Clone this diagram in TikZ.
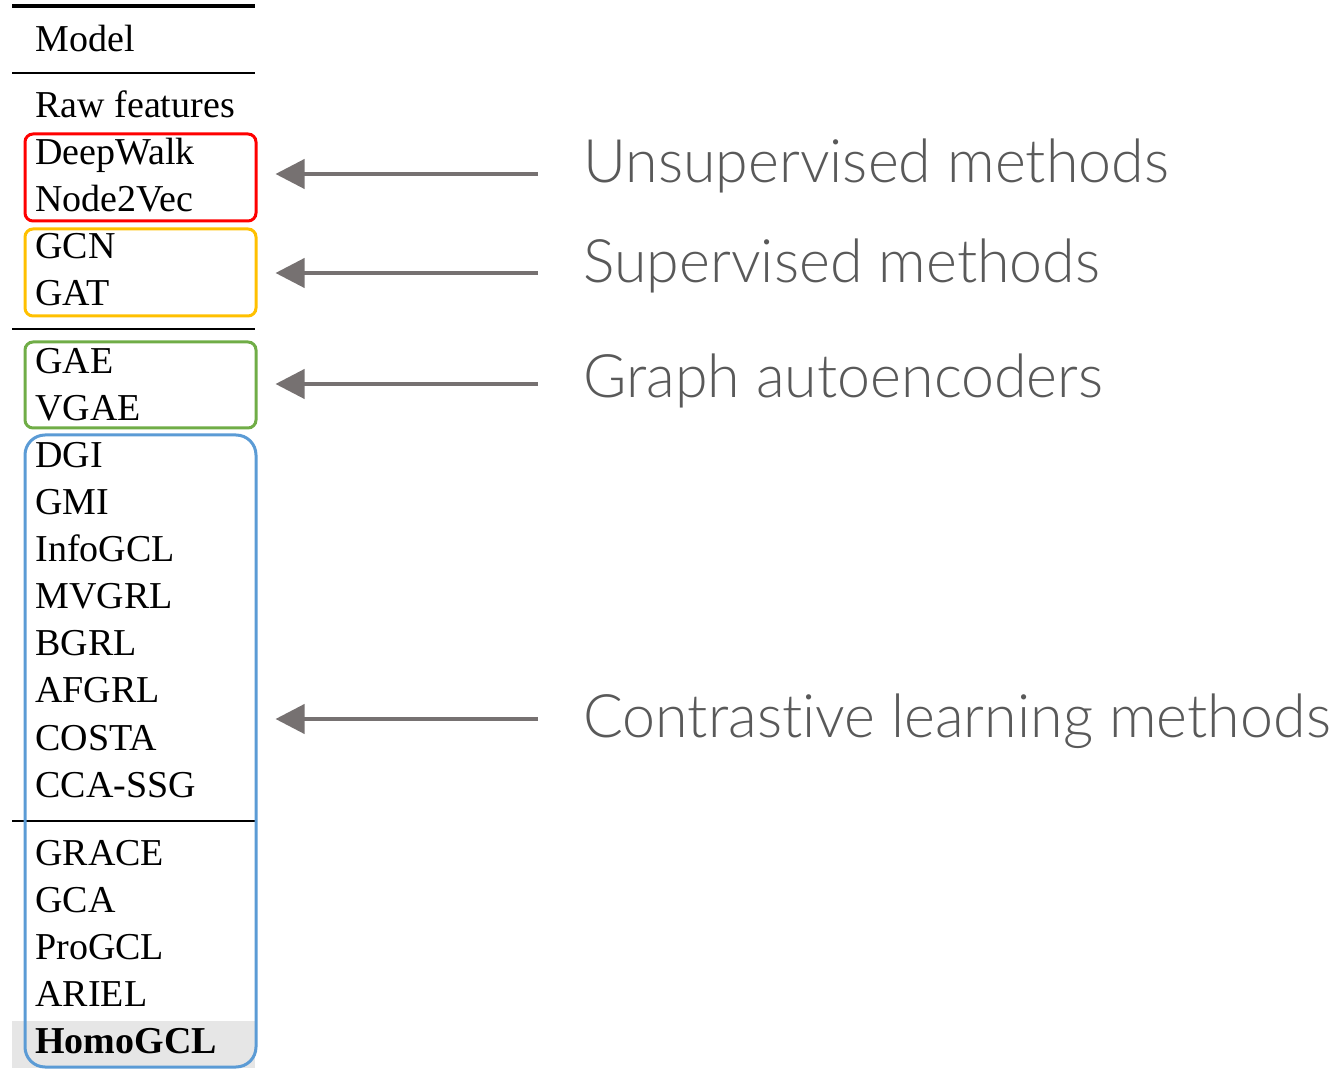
\documentclass[tikz,border=0pt]{standalone}
\usepackage{fontspec}
\setmainfont{Liberation Serif}
\newfontfamily\notefont[FakeStretch=0.985, Ligatures=NoCommon]{Lato Light}
\usetikzlibrary{arrows.meta,fit}
\definecolor{boxred}{HTML}{FF0000}
\definecolor{boxorange}{HTML}{FFC000}
\definecolor{boxgreen}{HTML}{70AD47}
\definecolor{boxblue}{HTML}{5B9BD5}
\definecolor{arrowgray}{HTML}{767171}
\definecolor{notegray}{HTML}{595959}
\definecolor{bandgray}{HTML}{E6E6E6}

\begin{document}
\begin{tikzpicture}[x=0.5pt, y=-0.5pt,
  model/.style={anchor=base west, inner sep=0pt, font=\fontsize{19}{19}\selectfont},
  group/.style={draw=#1, line width=1.5pt, rounded corners=4pt, inner sep=0pt},
  note/.style={anchor=base west, inner sep=0pt, text=notegray,
               font=\notefont\fontsize{30}{30}\selectfont},
  pointer/.style={draw=arrowgray, line width=2pt,
                  -{Triangle[length=14.5pt, width=14.5pt]}}]
  \useasboundingbox (0,0) rectangle (1339,1074);

  % table rules and highlighted row
  \fill[bandgray] (12,1021) rectangle (255,1068);
  \draw[line width=2pt] (12,6) -- (255,6);
  \draw[line width=1pt] (12,73) -- (255,73);
  \draw[line width=1pt] (12,329) -- (255,329);
  \draw[line width=1pt] (12,821) -- (255,821);

  % model column
  \node[model] (head) at (35,52) {Model};
  \foreach \txt/\y [count=\i] in {Raw features/118, DeepWalk/165, Node2Vec/212,
      GCN/259, GAT/306, GAE/374, VGAE/421, DGI/468, GMI/515, InfoGCL/562,
      MVGRL/609, BGRL/656, AFGRL/703, COSTA/750, CCA-SSG/797, GRACE/865,
      GCA/912, ProGCL/959, ARIEL/1006}
    \node[model] (row\i) at (35,\y) {\txt};
  \node[model, font=\fontsize{19}{19}\selectfont\bfseries] (ours) at (35,1053) {HomoGCL};

  % groups
  \node[group=boxred, fit={(25,134) (256,221)}] (unsup) {};
  \node[group=boxorange, fit={(25,229) (256,316)}] (sup) {};
  \node[group=boxgreen, fit={(25,342) (256,428)}] (gae) {};
  \node[group=boxblue, rounded corners=10pt, fit={(25,435) (256,1067)}] (cl) {};

  % notes
  \node[note] (unsup-lbl) at (583,183) {Unsupervised methods};
  \node[note] (sup-lbl) at (583,283) {Supervised methods};
  \node[note] (gae-lbl) at (583,398) {Graph autoencoders};
  \node[note] (cl-lbl) at (583,738) {Contrastive learning methods};

  \coordinate (unsup-from) at (538,174);
  \coordinate (sup-from) at (538,273);
  \coordinate (gae-from) at (538,384);
  \coordinate (cl-from) at (538,719);
  \draw[pointer, shorten >=9pt] (unsup-from) -- (unsup-from -| unsup.east);
  \draw[pointer, shorten >=9pt] (sup-from) -- (sup-from -| sup.east);
  \draw[pointer, shorten >=9pt] (gae-from) -- (gae-from -| gae.east);
  \draw[pointer, shorten >=9pt] (cl-from) -- (cl-from -| cl.east);
\end{tikzpicture}
\end{document}
